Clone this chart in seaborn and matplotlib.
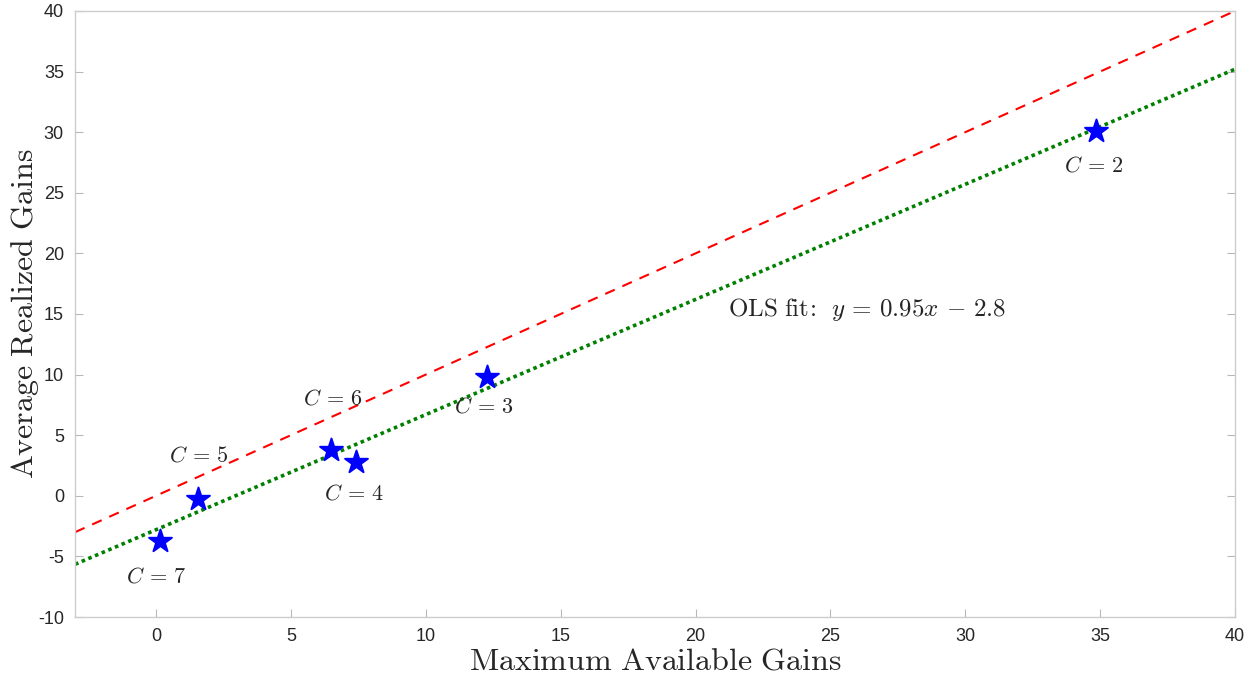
import numpy as np
import pandas as pd
import matplotlib.pyplot as plt
import seaborn as sns

# values
labels = [r'$C\,=\,2$', r'$C\,=\,3$', r'$C\,=\,4$', r'$C\,=\,5$', r'$C\,=\,6$', r'$C\,=\,7$']
max_gains = [34.85, 12.26, 7.4, 1.55, 6.5, 0.15]
avg_gains = [30.1, 9.8, 2.8, -0.25, 3.8, -3.7]
# label offsets from each point (data units)
label_dx = [-0.1, -0.1, -0.05, 0.05, 0.05, -0.15]
label_dy = [-2.9, -2.5, -2.65, 3.55, 4.2, -3.0]

slope, intercept = 0.95, -2.8
x_range = [-3, 40]

sns.set_style('white')
plt.rcParams['mathtext.fontset'] = 'cm'
plt.rcParams['axes.unicode_minus'] = False
plt.rcParams['font.family'] = ['Liberation Sans', 'DejaVu Sans']

fig = plt.figure(figsize=(12.55, 6.77), dpi=100)
ax = fig.add_axes([0.0598, 0.0886, 0.9243, 0.8952])

df_pts = pd.DataFrame({'x': max_gains, 'y': avg_gains})
line_x = np.array(x_range)
df_diag = pd.DataFrame({'x': line_x, 'y': line_x})
df_fit = pd.DataFrame({'x': line_x, 'y': slope * line_x + intercept})

sns.lineplot(data=df_diag, x='x', y='y', ax=ax, color='red', linestyle=(0, (5, 4)), linewidth=1.5)
sns.lineplot(data=df_fit, x='x', y='y', ax=ax, color='#008000', linestyle=(0, (1, 1)), linewidth=2.6)
sns.scatterplot(data=df_pts, x='x', y='y', ax=ax, marker='*', s=300, color='blue', edgecolor='blue', zorder=5)

for lab, x, y, dx, dy in zip(labels, max_gains, avg_gains, label_dx, label_dy):
    ax.text(x + dx, y + dy, lab, fontsize=16, ha='center', va='center')

ax.text(21.2, 15.35, r'$\mathrm{OLS\ fit\!:}\ \,y\,=\,0.95x\,-\,2.8$', fontsize=18, ha='left', va='center')

ax.set_xlim(x_range)
ax.set_ylim(-10, 40)
ax.set_xticks(range(0, 41, 5))
ax.set_yticks(range(-10, 41, 5))
ax.tick_params(direction='in', length=6, color='#b8b8b8', labelsize=13,
               top=False, right=True, bottom=True, left=True, pad=8)
for sp in ax.spines.values():
    sp.set_color('#cccccc')
    sp.set_linewidth(1.0)

ax.set_xlabel(r'$\mathrm{Maximum\ Available\ Gains}$', fontsize=23, labelpad=1)
ax.set_ylabel(r'$\mathrm{Average\ Realized\ Gains}$', fontsize=23, labelpad=-2)

fig.savefig('out.png', dpi=100)
